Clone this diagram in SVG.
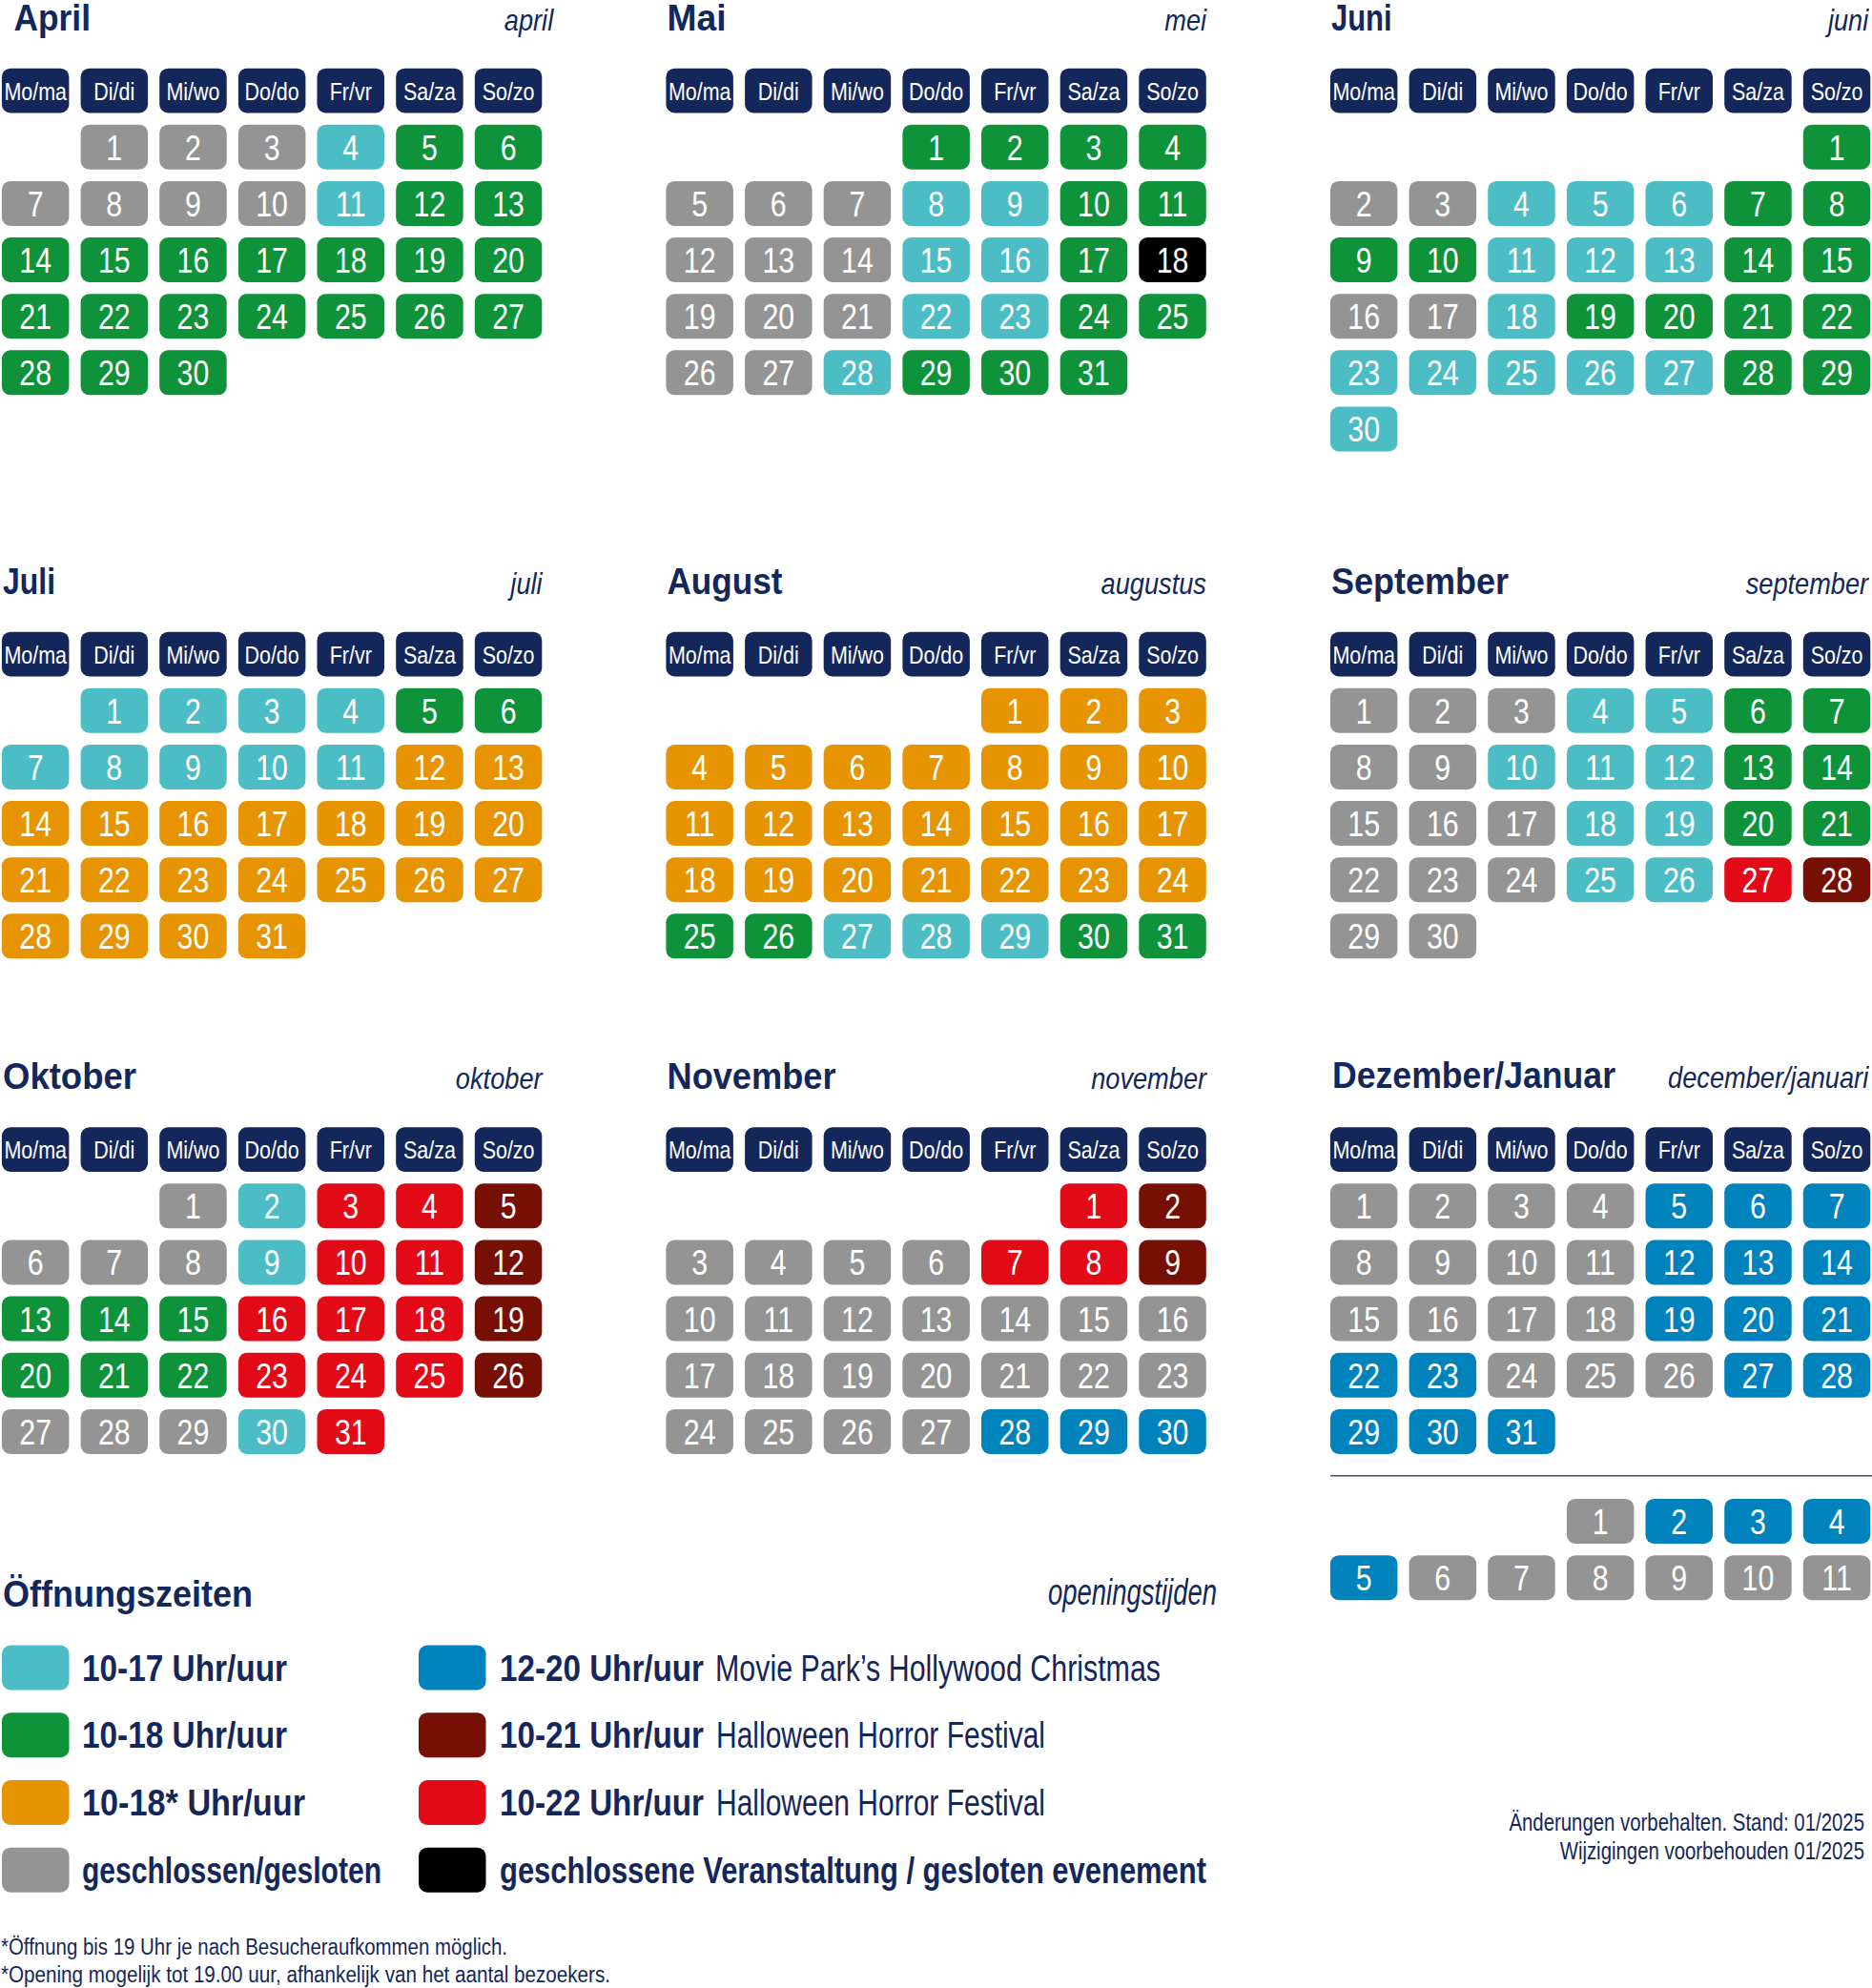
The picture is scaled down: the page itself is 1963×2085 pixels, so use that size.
<svg xmlns="http://www.w3.org/2000/svg" xmlns:xlink="http://www.w3.org/1999/xlink" width="1963" height="2085" viewBox="0 0 1963 2085">
<style>
text{font-family:"Liberation Sans",Arial,sans-serif}
.m text{font-size:37px;fill:#fff;text-anchor:middle;transform:scaleX(.82);transform-box:fill-box;transform-origin:center}
.m text.t{font-size:39px;font-weight:bold;fill:#14275a;text-anchor:start;transform:none}
.m text.s{font-size:32px;font-style:italic;fill:#14275a;text-anchor:end;transform:scaleX(.85);transform-origin:right}
#hdr text{font-size:25px;fill:#fff;text-anchor:middle;transform:scaleX(.86);transform-box:fill-box;transform-origin:center}
.lg{font-size:38px;font-weight:bold;fill:#14275a}
.lr{font-size:38px;fill:#14275a}
.ft{font-size:23px;fill:#14275a}
.nt{font-size:25px;fill:#14275a;text-anchor:end;transform:scaleX(.815);transform-box:fill-box;transform-origin:right}
.nv{fill:#14275a}
</style>
<defs>
<rect id="T" width="70.5" height="47" rx="9" fill="#4dbdc5"/>
<rect id="G" width="70.5" height="47" rx="9" fill="#0e933a"/>
<rect id="O" width="70.5" height="47" rx="9" fill="#e69402"/>
<rect id="X" width="70.5" height="47" rx="9" fill="#949494"/>
<rect id="B" width="70.5" height="47" rx="9" fill="#0083bd"/>
<rect id="D" width="70.5" height="47" rx="9" fill="#761005"/>
<rect id="R" width="70.5" height="47" rx="9" fill="#e30a18"/>
<rect id="K" width="70.5" height="47" rx="9" fill="#000"/>
<g id="hdr">
<rect class="nv" x="1.9" y="0" width="70.5" height="46.7" rx="9"/>
<rect class="nv" x="84.6" y="0" width="70.5" height="46.7" rx="9"/>
<rect class="nv" x="167.2" y="0" width="70.5" height="46.7" rx="9"/>
<rect class="nv" x="249.9" y="0" width="70.5" height="46.7" rx="9"/>
<rect class="nv" x="332.5" y="0" width="70.5" height="46.7" rx="9"/>
<rect class="nv" x="415.2" y="0" width="70.5" height="46.7" rx="9"/>
<rect class="nv" x="497.8" y="0" width="70.5" height="46.7" rx="9"/>
<text x="37.2" y="33">Mo/ma</text>
<text x="119.8" y="33">Di/di</text>
<text x="202.5" y="33">Mi/wo</text>
<text x="285.1" y="33">Do/do</text>
<text x="367.8" y="33">Fr/vr</text>
<text x="450.4" y="33">Sa/za</text>
<text x="533.1" y="33">So/zo</text>
</g>
</defs>

<g id="april" class="m" transform="translate(0,71.7)">
<use href="#hdr"/>
<text class="t" x="14.5" y="-40" textLength="80.5" lengthAdjust="spacingAndGlyphs">April</text>
<text class="s" x="580" y="-40">april</text>
<use href="#X" x="84.6" y="59"/><text x="119.8" y="96">1</text>
<use href="#X" x="167.2" y="59"/><text x="202.5" y="96">2</text>
<use href="#X" x="249.9" y="59"/><text x="285.1" y="96">3</text>
<use href="#T" x="332.5" y="59"/><text x="367.8" y="96">4</text>
<use href="#G" x="415.2" y="59"/><text x="450.4" y="96">5</text>
<use href="#G" x="497.8" y="59"/><text x="533.1" y="96">6</text>
<use href="#X" x="1.9" y="118.2"/><text x="37.2" y="155.2">7</text>
<use href="#X" x="84.6" y="118.2"/><text x="119.8" y="155.2">8</text>
<use href="#X" x="167.2" y="118.2"/><text x="202.5" y="155.2">9</text>
<use href="#X" x="249.9" y="118.2"/><text x="285.1" y="155.2">10</text>
<use href="#T" x="332.5" y="118.2"/><text x="367.8" y="155.2">11</text>
<use href="#G" x="415.2" y="118.2"/><text x="450.4" y="155.2">12</text>
<use href="#G" x="497.8" y="118.2"/><text x="533.1" y="155.2">13</text>
<use href="#G" x="1.9" y="177.3"/><text x="37.2" y="214.3">14</text>
<use href="#G" x="84.6" y="177.3"/><text x="119.8" y="214.3">15</text>
<use href="#G" x="167.2" y="177.3"/><text x="202.5" y="214.3">16</text>
<use href="#G" x="249.9" y="177.3"/><text x="285.1" y="214.3">17</text>
<use href="#G" x="332.5" y="177.3"/><text x="367.8" y="214.3">18</text>
<use href="#G" x="415.2" y="177.3"/><text x="450.4" y="214.3">19</text>
<use href="#G" x="497.8" y="177.3"/><text x="533.1" y="214.3">20</text>
<use href="#G" x="1.9" y="236.5"/><text x="37.2" y="273.5">21</text>
<use href="#G" x="84.6" y="236.5"/><text x="119.8" y="273.5">22</text>
<use href="#G" x="167.2" y="236.5"/><text x="202.5" y="273.5">23</text>
<use href="#G" x="249.9" y="236.5"/><text x="285.1" y="273.5">24</text>
<use href="#G" x="332.5" y="236.5"/><text x="367.8" y="273.5">25</text>
<use href="#G" x="415.2" y="236.5"/><text x="450.4" y="273.5">26</text>
<use href="#G" x="497.8" y="236.5"/><text x="533.1" y="273.5">27</text>
<use href="#G" x="1.9" y="295.6"/><text x="37.2" y="332.6">28</text>
<use href="#G" x="84.6" y="295.6"/><text x="119.8" y="332.6">29</text>
<use href="#G" x="167.2" y="295.6"/><text x="202.5" y="332.6">30</text>
</g>

<g id="mai" class="m" transform="translate(696.5,71.7)">
<use href="#hdr"/>
<text class="t" x="3" y="-40" textLength="62" lengthAdjust="spacingAndGlyphs">Mai</text>
<text class="s" x="568.4" y="-40">mei</text>
<use href="#G" x="249.9" y="59"/><text x="285.1" y="96">1</text>
<use href="#G" x="332.5" y="59"/><text x="367.8" y="96">2</text>
<use href="#G" x="415.2" y="59"/><text x="450.4" y="96">3</text>
<use href="#G" x="497.8" y="59"/><text x="533.1" y="96">4</text>
<use href="#X" x="1.9" y="118.2"/><text x="37.2" y="155.2">5</text>
<use href="#X" x="84.6" y="118.2"/><text x="119.8" y="155.2">6</text>
<use href="#X" x="167.2" y="118.2"/><text x="202.5" y="155.2">7</text>
<use href="#T" x="249.9" y="118.2"/><text x="285.1" y="155.2">8</text>
<use href="#T" x="332.5" y="118.2"/><text x="367.8" y="155.2">9</text>
<use href="#G" x="415.2" y="118.2"/><text x="450.4" y="155.2">10</text>
<use href="#G" x="497.8" y="118.2"/><text x="533.1" y="155.2">11</text>
<use href="#X" x="1.9" y="177.3"/><text x="37.2" y="214.3">12</text>
<use href="#X" x="84.6" y="177.3"/><text x="119.8" y="214.3">13</text>
<use href="#X" x="167.2" y="177.3"/><text x="202.5" y="214.3">14</text>
<use href="#T" x="249.9" y="177.3"/><text x="285.1" y="214.3">15</text>
<use href="#T" x="332.5" y="177.3"/><text x="367.8" y="214.3">16</text>
<use href="#G" x="415.2" y="177.3"/><text x="450.4" y="214.3">17</text>
<use href="#K" x="497.8" y="177.3"/><text x="533.1" y="214.3">18</text>
<use href="#X" x="1.9" y="236.5"/><text x="37.2" y="273.5">19</text>
<use href="#X" x="84.6" y="236.5"/><text x="119.8" y="273.5">20</text>
<use href="#X" x="167.2" y="236.5"/><text x="202.5" y="273.5">21</text>
<use href="#T" x="249.9" y="236.5"/><text x="285.1" y="273.5">22</text>
<use href="#T" x="332.5" y="236.5"/><text x="367.8" y="273.5">23</text>
<use href="#G" x="415.2" y="236.5"/><text x="450.4" y="273.5">24</text>
<use href="#G" x="497.8" y="236.5"/><text x="533.1" y="273.5">25</text>
<use href="#X" x="1.9" y="295.6"/><text x="37.2" y="332.6">26</text>
<use href="#X" x="84.6" y="295.6"/><text x="119.8" y="332.6">27</text>
<use href="#T" x="167.2" y="295.6"/><text x="202.5" y="332.6">28</text>
<use href="#G" x="249.9" y="295.6"/><text x="285.1" y="332.6">29</text>
<use href="#G" x="332.5" y="295.6"/><text x="367.8" y="332.6">30</text>
<use href="#G" x="415.2" y="295.6"/><text x="450.4" y="332.6">31</text>
</g>

<g id="juni" class="m" transform="translate(1393,71.7)">
<use href="#hdr"/>
<text class="t" x="3" y="-40" textLength="63.5" lengthAdjust="spacingAndGlyphs">Juni</text>
<text class="s" x="566" y="-40">juni</text>
<use href="#G" x="497.8" y="59"/><text x="533.1" y="96">1</text>
<use href="#X" x="1.9" y="118.2"/><text x="37.2" y="155.2">2</text>
<use href="#X" x="84.6" y="118.2"/><text x="119.8" y="155.2">3</text>
<use href="#T" x="167.2" y="118.2"/><text x="202.5" y="155.2">4</text>
<use href="#T" x="249.9" y="118.2"/><text x="285.1" y="155.2">5</text>
<use href="#T" x="332.5" y="118.2"/><text x="367.8" y="155.2">6</text>
<use href="#G" x="415.2" y="118.2"/><text x="450.4" y="155.2">7</text>
<use href="#G" x="497.8" y="118.2"/><text x="533.1" y="155.2">8</text>
<use href="#G" x="1.9" y="177.3"/><text x="37.2" y="214.3">9</text>
<use href="#G" x="84.6" y="177.3"/><text x="119.8" y="214.3">10</text>
<use href="#T" x="167.2" y="177.3"/><text x="202.5" y="214.3">11</text>
<use href="#T" x="249.9" y="177.3"/><text x="285.1" y="214.3">12</text>
<use href="#T" x="332.5" y="177.3"/><text x="367.8" y="214.3">13</text>
<use href="#G" x="415.2" y="177.3"/><text x="450.4" y="214.3">14</text>
<use href="#G" x="497.8" y="177.3"/><text x="533.1" y="214.3">15</text>
<use href="#X" x="1.9" y="236.5"/><text x="37.2" y="273.5">16</text>
<use href="#X" x="84.6" y="236.5"/><text x="119.8" y="273.5">17</text>
<use href="#T" x="167.2" y="236.5"/><text x="202.5" y="273.5">18</text>
<use href="#G" x="249.9" y="236.5"/><text x="285.1" y="273.5">19</text>
<use href="#G" x="332.5" y="236.5"/><text x="367.8" y="273.5">20</text>
<use href="#G" x="415.2" y="236.5"/><text x="450.4" y="273.5">21</text>
<use href="#G" x="497.8" y="236.5"/><text x="533.1" y="273.5">22</text>
<use href="#T" x="1.9" y="295.6"/><text x="37.2" y="332.6">23</text>
<use href="#T" x="84.6" y="295.6"/><text x="119.8" y="332.6">24</text>
<use href="#T" x="167.2" y="295.6"/><text x="202.5" y="332.6">25</text>
<use href="#T" x="249.9" y="295.6"/><text x="285.1" y="332.6">26</text>
<use href="#T" x="332.5" y="295.6"/><text x="367.8" y="332.6">27</text>
<use href="#G" x="415.2" y="295.6"/><text x="450.4" y="332.6">28</text>
<use href="#G" x="497.8" y="295.6"/><text x="533.1" y="332.6">29</text>
<use href="#T" x="1.9" y="354.8"/><text x="37.2" y="391.8">30</text>
</g>

<g id="juli" class="m" transform="translate(0,662.7)">
<use href="#hdr"/>
<text class="t" x="3" y="-40" textLength="55" lengthAdjust="spacingAndGlyphs">Juli</text>
<text class="s" x="568.4" y="-40">juli</text>
<use href="#T" x="84.6" y="59"/><text x="119.8" y="96">1</text>
<use href="#T" x="167.2" y="59"/><text x="202.5" y="96">2</text>
<use href="#T" x="249.9" y="59"/><text x="285.1" y="96">3</text>
<use href="#T" x="332.5" y="59"/><text x="367.8" y="96">4</text>
<use href="#G" x="415.2" y="59"/><text x="450.4" y="96">5</text>
<use href="#G" x="497.8" y="59"/><text x="533.1" y="96">6</text>
<use href="#T" x="1.9" y="118.2"/><text x="37.2" y="155.2">7</text>
<use href="#T" x="84.6" y="118.2"/><text x="119.8" y="155.2">8</text>
<use href="#T" x="167.2" y="118.2"/><text x="202.5" y="155.2">9</text>
<use href="#T" x="249.9" y="118.2"/><text x="285.1" y="155.2">10</text>
<use href="#T" x="332.5" y="118.2"/><text x="367.8" y="155.2">11</text>
<use href="#O" x="415.2" y="118.2"/><text x="450.4" y="155.2">12</text>
<use href="#O" x="497.8" y="118.2"/><text x="533.1" y="155.2">13</text>
<use href="#O" x="1.9" y="177.3"/><text x="37.2" y="214.3">14</text>
<use href="#O" x="84.6" y="177.3"/><text x="119.8" y="214.3">15</text>
<use href="#O" x="167.2" y="177.3"/><text x="202.5" y="214.3">16</text>
<use href="#O" x="249.9" y="177.3"/><text x="285.1" y="214.3">17</text>
<use href="#O" x="332.5" y="177.3"/><text x="367.8" y="214.3">18</text>
<use href="#O" x="415.2" y="177.3"/><text x="450.4" y="214.3">19</text>
<use href="#O" x="497.8" y="177.3"/><text x="533.1" y="214.3">20</text>
<use href="#O" x="1.9" y="236.5"/><text x="37.2" y="273.5">21</text>
<use href="#O" x="84.6" y="236.5"/><text x="119.8" y="273.5">22</text>
<use href="#O" x="167.2" y="236.5"/><text x="202.5" y="273.5">23</text>
<use href="#O" x="249.9" y="236.5"/><text x="285.1" y="273.5">24</text>
<use href="#O" x="332.5" y="236.5"/><text x="367.8" y="273.5">25</text>
<use href="#O" x="415.2" y="236.5"/><text x="450.4" y="273.5">26</text>
<use href="#O" x="497.8" y="236.5"/><text x="533.1" y="273.5">27</text>
<use href="#O" x="1.9" y="295.6"/><text x="37.2" y="332.6">28</text>
<use href="#O" x="84.6" y="295.6"/><text x="119.8" y="332.6">29</text>
<use href="#O" x="167.2" y="295.6"/><text x="202.5" y="332.6">30</text>
<use href="#O" x="249.9" y="295.6"/><text x="285.1" y="332.6">31</text>
</g>

<g id="august" class="m" transform="translate(696.5,662.7)">
<use href="#hdr"/>
<text class="t" x="3" y="-40" textLength="121" lengthAdjust="spacingAndGlyphs">August</text>
<text class="s" x="568.4" y="-40">augustus</text>
<use href="#O" x="332.5" y="59"/><text x="367.8" y="96">1</text>
<use href="#O" x="415.2" y="59"/><text x="450.4" y="96">2</text>
<use href="#O" x="497.8" y="59"/><text x="533.1" y="96">3</text>
<use href="#O" x="1.9" y="118.2"/><text x="37.2" y="155.2">4</text>
<use href="#O" x="84.6" y="118.2"/><text x="119.8" y="155.2">5</text>
<use href="#O" x="167.2" y="118.2"/><text x="202.5" y="155.2">6</text>
<use href="#O" x="249.9" y="118.2"/><text x="285.1" y="155.2">7</text>
<use href="#O" x="332.5" y="118.2"/><text x="367.8" y="155.2">8</text>
<use href="#O" x="415.2" y="118.2"/><text x="450.4" y="155.2">9</text>
<use href="#O" x="497.8" y="118.2"/><text x="533.1" y="155.2">10</text>
<use href="#O" x="1.9" y="177.3"/><text x="37.2" y="214.3">11</text>
<use href="#O" x="84.6" y="177.3"/><text x="119.8" y="214.3">12</text>
<use href="#O" x="167.2" y="177.3"/><text x="202.5" y="214.3">13</text>
<use href="#O" x="249.9" y="177.3"/><text x="285.1" y="214.3">14</text>
<use href="#O" x="332.5" y="177.3"/><text x="367.8" y="214.3">15</text>
<use href="#O" x="415.2" y="177.3"/><text x="450.4" y="214.3">16</text>
<use href="#O" x="497.8" y="177.3"/><text x="533.1" y="214.3">17</text>
<use href="#O" x="1.9" y="236.5"/><text x="37.2" y="273.5">18</text>
<use href="#O" x="84.6" y="236.5"/><text x="119.8" y="273.5">19</text>
<use href="#O" x="167.2" y="236.5"/><text x="202.5" y="273.5">20</text>
<use href="#O" x="249.9" y="236.5"/><text x="285.1" y="273.5">21</text>
<use href="#O" x="332.5" y="236.5"/><text x="367.8" y="273.5">22</text>
<use href="#O" x="415.2" y="236.5"/><text x="450.4" y="273.5">23</text>
<use href="#O" x="497.8" y="236.5"/><text x="533.1" y="273.5">24</text>
<use href="#G" x="1.9" y="295.6"/><text x="37.2" y="332.6">25</text>
<use href="#G" x="84.6" y="295.6"/><text x="119.8" y="332.6">26</text>
<use href="#T" x="167.2" y="295.6"/><text x="202.5" y="332.6">27</text>
<use href="#T" x="249.9" y="295.6"/><text x="285.1" y="332.6">28</text>
<use href="#T" x="332.5" y="295.6"/><text x="367.8" y="332.6">29</text>
<use href="#G" x="415.2" y="295.6"/><text x="450.4" y="332.6">30</text>
<use href="#G" x="497.8" y="295.6"/><text x="533.1" y="332.6">31</text>
</g>

<g id="september" class="m" transform="translate(1393,662.7)">
<use href="#hdr"/>
<text class="t" x="3" y="-40" textLength="186" lengthAdjust="spacingAndGlyphs">September</text>
<text class="s" x="566" y="-40">september</text>
<use href="#X" x="1.9" y="59"/><text x="37.2" y="96">1</text>
<use href="#X" x="84.6" y="59"/><text x="119.8" y="96">2</text>
<use href="#X" x="167.2" y="59"/><text x="202.5" y="96">3</text>
<use href="#T" x="249.9" y="59"/><text x="285.1" y="96">4</text>
<use href="#T" x="332.5" y="59"/><text x="367.8" y="96">5</text>
<use href="#G" x="415.2" y="59"/><text x="450.4" y="96">6</text>
<use href="#G" x="497.8" y="59"/><text x="533.1" y="96">7</text>
<use href="#X" x="1.9" y="118.2"/><text x="37.2" y="155.2">8</text>
<use href="#X" x="84.6" y="118.2"/><text x="119.8" y="155.2">9</text>
<use href="#T" x="167.2" y="118.2"/><text x="202.5" y="155.2">10</text>
<use href="#T" x="249.9" y="118.2"/><text x="285.1" y="155.2">11</text>
<use href="#T" x="332.5" y="118.2"/><text x="367.8" y="155.2">12</text>
<use href="#G" x="415.2" y="118.2"/><text x="450.4" y="155.2">13</text>
<use href="#G" x="497.8" y="118.2"/><text x="533.1" y="155.2">14</text>
<use href="#X" x="1.9" y="177.3"/><text x="37.2" y="214.3">15</text>
<use href="#X" x="84.6" y="177.3"/><text x="119.8" y="214.3">16</text>
<use href="#X" x="167.2" y="177.3"/><text x="202.5" y="214.3">17</text>
<use href="#T" x="249.9" y="177.3"/><text x="285.1" y="214.3">18</text>
<use href="#T" x="332.5" y="177.3"/><text x="367.8" y="214.3">19</text>
<use href="#G" x="415.2" y="177.3"/><text x="450.4" y="214.3">20</text>
<use href="#G" x="497.8" y="177.3"/><text x="533.1" y="214.3">21</text>
<use href="#X" x="1.9" y="236.5"/><text x="37.2" y="273.5">22</text>
<use href="#X" x="84.6" y="236.5"/><text x="119.8" y="273.5">23</text>
<use href="#X" x="167.2" y="236.5"/><text x="202.5" y="273.5">24</text>
<use href="#T" x="249.9" y="236.5"/><text x="285.1" y="273.5">25</text>
<use href="#T" x="332.5" y="236.5"/><text x="367.8" y="273.5">26</text>
<use href="#R" x="415.2" y="236.5"/><text x="450.4" y="273.5">27</text>
<use href="#D" x="497.8" y="236.5"/><text x="533.1" y="273.5">28</text>
<use href="#X" x="1.9" y="295.6"/><text x="37.2" y="332.6">29</text>
<use href="#X" x="84.6" y="295.6"/><text x="119.8" y="332.6">30</text>
</g>

<g id="oktober" class="m" transform="translate(0,1182.3)">
<use href="#hdr"/>
<text class="t" x="3" y="-40.5" textLength="140" lengthAdjust="spacingAndGlyphs">Oktober</text>
<text class="s" x="568.4" y="-40.5">oktober</text>
<use href="#X" x="167.2" y="59"/><text x="202.5" y="96">1</text>
<use href="#T" x="249.9" y="59"/><text x="285.1" y="96">2</text>
<use href="#R" x="332.5" y="59"/><text x="367.8" y="96">3</text>
<use href="#R" x="415.2" y="59"/><text x="450.4" y="96">4</text>
<use href="#D" x="497.8" y="59"/><text x="533.1" y="96">5</text>
<use href="#X" x="1.9" y="118.2"/><text x="37.2" y="155.2">6</text>
<use href="#X" x="84.6" y="118.2"/><text x="119.8" y="155.2">7</text>
<use href="#X" x="167.2" y="118.2"/><text x="202.5" y="155.2">8</text>
<use href="#T" x="249.9" y="118.2"/><text x="285.1" y="155.2">9</text>
<use href="#R" x="332.5" y="118.2"/><text x="367.8" y="155.2">10</text>
<use href="#R" x="415.2" y="118.2"/><text x="450.4" y="155.2">11</text>
<use href="#D" x="497.8" y="118.2"/><text x="533.1" y="155.2">12</text>
<use href="#G" x="1.9" y="177.3"/><text x="37.2" y="214.3">13</text>
<use href="#G" x="84.6" y="177.3"/><text x="119.8" y="214.3">14</text>
<use href="#G" x="167.2" y="177.3"/><text x="202.5" y="214.3">15</text>
<use href="#R" x="249.9" y="177.3"/><text x="285.1" y="214.3">16</text>
<use href="#R" x="332.5" y="177.3"/><text x="367.8" y="214.3">17</text>
<use href="#R" x="415.2" y="177.3"/><text x="450.4" y="214.3">18</text>
<use href="#D" x="497.8" y="177.3"/><text x="533.1" y="214.3">19</text>
<use href="#G" x="1.9" y="236.5"/><text x="37.2" y="273.5">20</text>
<use href="#G" x="84.6" y="236.5"/><text x="119.8" y="273.5">21</text>
<use href="#G" x="167.2" y="236.5"/><text x="202.5" y="273.5">22</text>
<use href="#R" x="249.9" y="236.5"/><text x="285.1" y="273.5">23</text>
<use href="#R" x="332.5" y="236.5"/><text x="367.8" y="273.5">24</text>
<use href="#R" x="415.2" y="236.5"/><text x="450.4" y="273.5">25</text>
<use href="#D" x="497.8" y="236.5"/><text x="533.1" y="273.5">26</text>
<use href="#X" x="1.9" y="295.6"/><text x="37.2" y="332.6">27</text>
<use href="#X" x="84.6" y="295.6"/><text x="119.8" y="332.6">28</text>
<use href="#X" x="167.2" y="295.6"/><text x="202.5" y="332.6">29</text>
<use href="#T" x="249.9" y="295.6"/><text x="285.1" y="332.6">30</text>
<use href="#R" x="332.5" y="295.6"/><text x="367.8" y="332.6">31</text>
</g>

<g id="november" class="m" transform="translate(696.5,1182.3)">
<use href="#hdr"/>
<text class="t" x="3" y="-40.5" textLength="177" lengthAdjust="spacingAndGlyphs">November</text>
<text class="s" x="568.4" y="-40.5">november</text>
<use href="#R" x="415.2" y="59"/><text x="450.4" y="96">1</text>
<use href="#D" x="497.8" y="59"/><text x="533.1" y="96">2</text>
<use href="#X" x="1.9" y="118.2"/><text x="37.2" y="155.2">3</text>
<use href="#X" x="84.6" y="118.2"/><text x="119.8" y="155.2">4</text>
<use href="#X" x="167.2" y="118.2"/><text x="202.5" y="155.2">5</text>
<use href="#X" x="249.9" y="118.2"/><text x="285.1" y="155.2">6</text>
<use href="#R" x="332.5" y="118.2"/><text x="367.8" y="155.2">7</text>
<use href="#R" x="415.2" y="118.2"/><text x="450.4" y="155.2">8</text>
<use href="#D" x="497.8" y="118.2"/><text x="533.1" y="155.2">9</text>
<use href="#X" x="1.9" y="177.3"/><text x="37.2" y="214.3">10</text>
<use href="#X" x="84.6" y="177.3"/><text x="119.8" y="214.3">11</text>
<use href="#X" x="167.2" y="177.3"/><text x="202.5" y="214.3">12</text>
<use href="#X" x="249.9" y="177.3"/><text x="285.1" y="214.3">13</text>
<use href="#X" x="332.5" y="177.3"/><text x="367.8" y="214.3">14</text>
<use href="#X" x="415.2" y="177.3"/><text x="450.4" y="214.3">15</text>
<use href="#X" x="497.8" y="177.3"/><text x="533.1" y="214.3">16</text>
<use href="#X" x="1.9" y="236.5"/><text x="37.2" y="273.5">17</text>
<use href="#X" x="84.6" y="236.5"/><text x="119.8" y="273.5">18</text>
<use href="#X" x="167.2" y="236.5"/><text x="202.5" y="273.5">19</text>
<use href="#X" x="249.9" y="236.5"/><text x="285.1" y="273.5">20</text>
<use href="#X" x="332.5" y="236.5"/><text x="367.8" y="273.5">21</text>
<use href="#X" x="415.2" y="236.5"/><text x="450.4" y="273.5">22</text>
<use href="#X" x="497.8" y="236.5"/><text x="533.1" y="273.5">23</text>
<use href="#X" x="1.9" y="295.6"/><text x="37.2" y="332.6">24</text>
<use href="#X" x="84.6" y="295.6"/><text x="119.8" y="332.6">25</text>
<use href="#X" x="167.2" y="295.6"/><text x="202.5" y="332.6">26</text>
<use href="#X" x="249.9" y="295.6"/><text x="285.1" y="332.6">27</text>
<use href="#B" x="332.5" y="295.6"/><text x="367.8" y="332.6">28</text>
<use href="#B" x="415.2" y="295.6"/><text x="450.4" y="332.6">29</text>
<use href="#B" x="497.8" y="295.6"/><text x="533.1" y="332.6">30</text>
</g>

<g id="dezember" class="m" transform="translate(1393,1182.3)">
<use href="#hdr"/>
<text class="t" x="4" y="-41" textLength="297" lengthAdjust="spacingAndGlyphs">Dezember/Januar</text>
<text class="s" x="566" y="-41">december/januari</text>
<use href="#X" x="1.9" y="59"/><text x="37.2" y="96">1</text>
<use href="#X" x="84.6" y="59"/><text x="119.8" y="96">2</text>
<use href="#X" x="167.2" y="59"/><text x="202.5" y="96">3</text>
<use href="#X" x="249.9" y="59"/><text x="285.1" y="96">4</text>
<use href="#B" x="332.5" y="59"/><text x="367.8" y="96">5</text>
<use href="#B" x="415.2" y="59"/><text x="450.4" y="96">6</text>
<use href="#B" x="497.8" y="59"/><text x="533.1" y="96">7</text>
<use href="#X" x="1.9" y="118.2"/><text x="37.2" y="155.2">8</text>
<use href="#X" x="84.6" y="118.2"/><text x="119.8" y="155.2">9</text>
<use href="#X" x="167.2" y="118.2"/><text x="202.5" y="155.2">10</text>
<use href="#X" x="249.9" y="118.2"/><text x="285.1" y="155.2">11</text>
<use href="#B" x="332.5" y="118.2"/><text x="367.8" y="155.2">12</text>
<use href="#B" x="415.2" y="118.2"/><text x="450.4" y="155.2">13</text>
<use href="#B" x="497.8" y="118.2"/><text x="533.1" y="155.2">14</text>
<use href="#X" x="1.9" y="177.3"/><text x="37.2" y="214.3">15</text>
<use href="#X" x="84.6" y="177.3"/><text x="119.8" y="214.3">16</text>
<use href="#X" x="167.2" y="177.3"/><text x="202.5" y="214.3">17</text>
<use href="#X" x="249.9" y="177.3"/><text x="285.1" y="214.3">18</text>
<use href="#B" x="332.5" y="177.3"/><text x="367.8" y="214.3">19</text>
<use href="#B" x="415.2" y="177.3"/><text x="450.4" y="214.3">20</text>
<use href="#B" x="497.8" y="177.3"/><text x="533.1" y="214.3">21</text>
<use href="#B" x="1.9" y="236.5"/><text x="37.2" y="273.5">22</text>
<use href="#B" x="84.6" y="236.5"/><text x="119.8" y="273.5">23</text>
<use href="#X" x="167.2" y="236.5"/><text x="202.5" y="273.5">24</text>
<use href="#X" x="249.9" y="236.5"/><text x="285.1" y="273.5">25</text>
<use href="#X" x="332.5" y="236.5"/><text x="367.8" y="273.5">26</text>
<use href="#B" x="415.2" y="236.5"/><text x="450.4" y="273.5">27</text>
<use href="#B" x="497.8" y="236.5"/><text x="533.1" y="273.5">28</text>
<use href="#B" x="1.9" y="295.6"/><text x="37.2" y="332.6">29</text>
<use href="#B" x="84.6" y="295.6"/><text x="119.8" y="332.6">30</text>
<use href="#B" x="167.2" y="295.6"/><text x="202.5" y="332.6">31</text>
<line x1="2" y1="365.5" x2="570" y2="365.5" stroke="#3b4a78" stroke-width="1.6"/>
<use href="#X" x="249.9" y="389.6"/><text x="285.1" y="426.6">1</text>
<use href="#B" x="332.5" y="389.6"/><text x="367.8" y="426.6">2</text>
<use href="#B" x="415.2" y="389.6"/><text x="450.4" y="426.6">3</text>
<use href="#B" x="497.8" y="389.6"/><text x="533.1" y="426.6">4</text>
<use href="#B" x="1.9" y="448.9"/><text x="37.2" y="485.9">5</text>
<use href="#X" x="84.6" y="448.9"/><text x="119.8" y="485.9">6</text>
<use href="#X" x="167.2" y="448.9"/><text x="202.5" y="485.9">7</text>
<use href="#X" x="249.9" y="448.9"/><text x="285.1" y="485.9">8</text>
<use href="#X" x="332.5" y="448.9"/><text x="367.8" y="485.9">9</text>
<use href="#X" x="415.2" y="448.9"/><text x="450.4" y="485.9">10</text>
<use href="#X" x="497.8" y="448.9"/><text x="533.1" y="485.9">11</text>
</g>

<g id="legend">
<text class="lg" x="3" y="1685" textLength="262" lengthAdjust="spacingAndGlyphs">Öffnungszeiten</text>
<text class="lr" x="1276" y="1683" font-size="32" font-style="italic" text-anchor="end" textLength="177" lengthAdjust="spacingAndGlyphs">openingstijden</text>
<use href="#T" x="2" y="1725.5"/>
<use href="#G" x="2" y="1796.2"/>
<use href="#O" x="2" y="1867"/>
<use href="#X" x="2" y="1937.7"/>
<use href="#B" x="439" y="1725.5"/>
<use href="#D" x="439" y="1796.2"/>
<use href="#R" x="439" y="1867"/>
<use href="#K" x="439" y="1937.7"/>
<text class="lg" x="86" y="1762.7" textLength="215" lengthAdjust="spacingAndGlyphs">10-17 Uhr/uur</text>
<text class="lg" x="86" y="1833.3" textLength="215" lengthAdjust="spacingAndGlyphs">10-18 Uhr/uur</text>
<text class="lg" x="86" y="1904" textLength="234" lengthAdjust="spacingAndGlyphs">10-18*  Uhr/uur</text>
<text class="lg" x="86" y="1974.7" textLength="314" lengthAdjust="spacingAndGlyphs">geschlossen/gesloten</text>
<text class="lg" x="524" y="1762.7" textLength="214" lengthAdjust="spacingAndGlyphs">12-20 Uhr/uur</text>
<text class="lr" x="750" y="1762.7" textLength="467" lengthAdjust="spacingAndGlyphs">Movie Park’s Hollywood Christmas</text>
<text class="lg" x="524" y="1833.3" textLength="214" lengthAdjust="spacingAndGlyphs">10-21 Uhr/uur</text>
<text class="lr" x="751" y="1833.3" textLength="345" lengthAdjust="spacingAndGlyphs">Halloween Horror Festival</text>
<text class="lg" x="524" y="1904" textLength="214" lengthAdjust="spacingAndGlyphs">10-22 Uhr/uur</text>
<text class="lr" x="751" y="1904" textLength="345" lengthAdjust="spacingAndGlyphs">Halloween Horror Festival</text>
<text class="lg" x="524" y="1974.7" textLength="741" lengthAdjust="spacingAndGlyphs">geschlossene Veranstaltung / gesloten evenement</text>
</g>

<g id="notes">
<text class="ft" x="1" y="2050" textLength="531" lengthAdjust="spacingAndGlyphs">*Öffnung bis 19 Uhr je nach Besucheraufkommen möglich.</text>
<text class="ft" x="1" y="2079" textLength="639" lengthAdjust="spacingAndGlyphs">*Opening mogelijk tot 19.00 uur, afhankelijk van het aantal bezoekers.</text>
<text class="nt" x="1955" y="1920">Änderungen vorbehalten. Stand: 01/2025</text>
<text class="nt" x="1955" y="1950">Wijzigingen voorbehouden 01/2025</text>
</g>
</svg>
